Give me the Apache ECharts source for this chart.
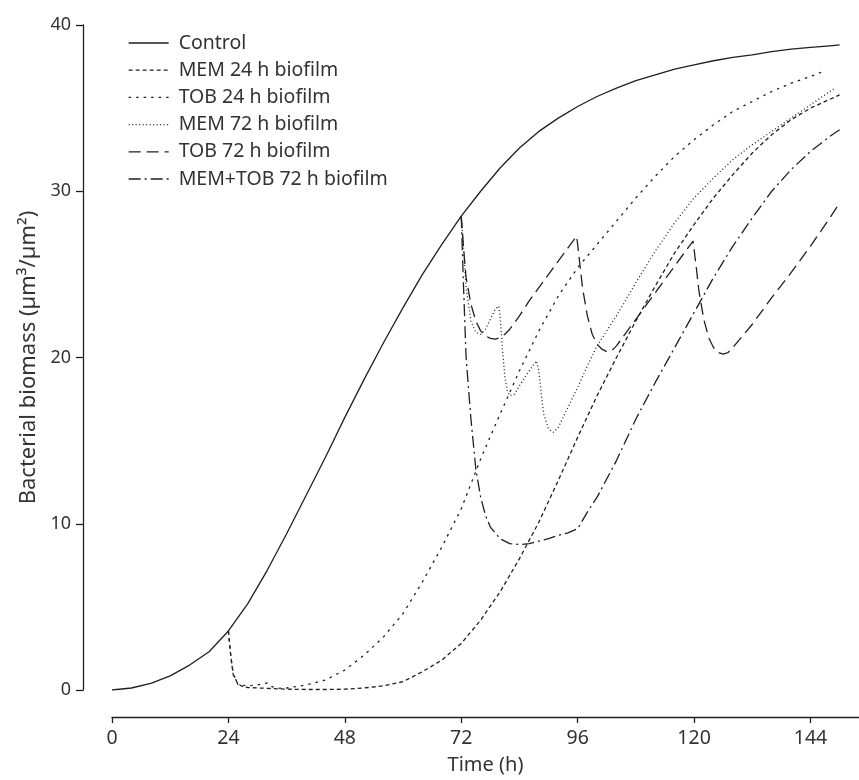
<!DOCTYPE html>
<html>
<head>
<meta charset="utf-8">
<script src="https://cdn.jsdelivr.net/npm/echarts@6/dist/echarts.min.js"></script>
<style>html,body{margin:0;padding:0;background:#fff}#c{width:859px;height:780px}</style>
</head>
<body>
<div id="c"></div>
<script>
var xTicks = [0, 24, 48, 72, 96, 120, 144];
var seriesNames = ['Control', 'MEM 24 h biofilm', 'TOB 24 h biofilm', 'MEM 72 h biofilm', 'TOB 72 h biofilm', 'MEM+TOB 72 h biofilm'];

var controlT = [0,4,8,12,16,20,24,28,32,36,40,44,48,52,56,60,64,68,72,76,80,84,88,92,96,100,104,108,112,116,120,124,128,132,136,140,144,148,150];
var controlY = [0,0.12,0.4,0.85,1.5,2.3,3.55,5.2,7.2,9.4,11.7,14.0,16.4,18.7,20.9,23.0,25.0,26.8,28.5,30.0,31.4,32.6,33.6,34.4,35.1,35.7,36.2,36.65,37.0,37.35,37.6,37.85,38.05,38.2,38.4,38.55,38.65,38.75,38.8];

var mem24T = [24,24.5,25,26,27,28,30,32,36,40,44,48,52,56,60,64,68,72,76,80,84,88,92,96,100,104,108,112,116,120,124,128,132,136,140,144,150];
var mem24Y = [3.55,2.0,0.9,0.35,0.2,0.15,0.12,0.1,0.05,0.03,0.03,0.05,0.12,0.25,0.5,1.1,1.8,2.8,4.2,5.9,7.9,10.1,12.6,15.2,17.7,20.0,22.2,24.3,26.3,28.0,29.6,31.0,32.3,33.4,34.3,35.0,35.8];

var tob24T = [24,24.5,25,26,28,30,31,32,33,34,36,40,44,48,52,56,60,64,68,72,76,80,84,88,92,96,100,104,108,112,116,120,124,128,132,136,140,144,147];
var tob24Y = [3.55,2.0,1.0,0.3,0.25,0.3,0.38,0.42,0.2,0.1,0.12,0.3,0.6,1.2,2.1,3.2,4.6,6.5,8.6,10.9,13.9,16.6,19.2,21.6,23.7,25.4,26.8,28.2,29.6,30.9,32.1,33.1,34.0,34.8,35.4,36.0,36.5,36.9,37.25];

var mem72T = [72,72.5,73,74,75,76,77,78,79,79.7,80,80.5,81,81.5,82,83,84,86,87.5,88,88.5,89,90,91,92,94,96,98,100,104,108,112,116,120,124,128,132,136,140,144,149];
var mem72Y = [28.5,26.5,24.2,22.2,21.5,21.4,21.7,22.3,22.9,23.1,22.5,20.5,18.8,18.0,17.7,17.8,18.3,19.2,19.8,19.2,17.8,16.6,15.7,15.5,15.8,17.0,18.2,19.5,20.7,22.5,24.5,26.4,28.1,29.6,30.8,31.9,32.8,33.6,34.4,35.2,36.2];

var tob72T = [72,72.5,73,74,75,76,77,78,79,80,81,82,84,86,88,90,92,94,95.8,96.5,97,98,99,100,101,102,103,104,106,108,110,112,114,116,118,119.8,120.5,121,122,123,124,125,126,127,128,130,132,136,140,144,148,150];
var tob72Y = [28.5,26.5,24.8,23.2,22.2,21.6,21.3,21.15,21.1,21.2,21.4,21.7,22.5,23.4,24.2,25.0,25.8,26.6,27.3,25.5,24.2,22.5,21.4,20.8,20.5,20.35,20.4,20.7,21.5,22.3,23.1,23.9,24.7,25.5,26.3,27.0,25.3,24.0,22.3,21.2,20.6,20.3,20.2,20.3,20.6,21.3,22.0,23.6,25.1,26.7,28.4,29.3];

var memTobT = [72,72.5,73,74,75,76,77,78,80,82,84,86,88,90,92,94,96,98,100,104,108,112,116,120,124,128,132,136,140,144,148,150];
var memTobY = [28.5,24.0,20.0,16.3,13.3,11.6,10.5,9.8,9.1,8.8,8.75,8.8,8.95,9.1,9.3,9.45,9.7,10.7,11.6,13.8,16.3,18.5,20.6,22.7,24.8,26.7,28.4,30.0,31.3,32.4,33.3,33.7];

function pairs(t, y) { return t.map(function (v, i) { return [v, y[i]]; }); }

var INK = '#231f20';
var FONT = '"Noto Sans", sans-serif';
var dashTypes = ['solid', [4, 3], [2.5, 5], [1, 2.5], [12, 6], [12, 4, 2, 4]];
var dataSets = [
  pairs(controlT, controlY), pairs(mem24T, mem24Y), pairs(tob24T, tob24Y),
  pairs(mem72T, mem72Y), pairs(tob72T, tob72Y), pairs(memTobT, memTobY)
];

var series = seriesNames.map(function (n, i) {
  return {
    name: n, type: 'line', data: dataSets[i], showSymbol: false, symbol: 'none',
    smooth: false, animation: false,
    lineStyle: { color: INK, width: 1.3, type: dashTypes[i] },
    itemStyle: { color: INK }
  };
});

var chart = echarts.init(document.getElementById('c'), null, { renderer: 'canvas' });
chart.setOption({
  backgroundColor: '#fff',
  animation: false,
  grid: { left: 112, right: 0, top: 25, bottom: 85, containLabel: false },
  legend: {
    orient: 'vertical', left: 123, top: 28, itemWidth: 40, itemHeight: 14, itemGap: 7.2,
    textStyle: { fontFamily: FONT, fontSize: 19.5, color: '#333', lineHeight: 19, padding: [0, 0, 0, 5] },
    data: seriesNames,
    itemStyle: { opacity: 0, borderWidth: 0 },
    lineStyle: { width: 1.3 }
  },
  xAxis: {
    type: 'value', min: 0, max: 154, interval: 24, offset: 27,
    name: 'Time (h)', nameLocation: 'middle', nameGap: 38,
    nameTextStyle: { fontFamily: FONT, fontSize: 20, color: '#333' },
    axisLine: { show: true, onZero: false, lineStyle: { color: INK, width: 1.3 } },
    axisTick: { show: true, length: 6, inside: false, lineStyle: { color: INK, width: 1.3 }, customValues: xTicks },
    axisLabel: { fontFamily: FONT, fontSize: 19.5, color: '#333', margin: 11, customValues: xTicks },
    splitLine: { show: false }
  },
  yAxis: {
    type: 'value', min: 0, max: 40, interval: 10, offset: 29,
    name: 'Bacterial biomass (µm³/µm²)', nameLocation: 'middle', nameGap: 42,
    nameTextStyle: { fontFamily: FONT, fontSize: 22, color: '#333' },
    axisLine: { show: true, onZero: false, lineStyle: { color: INK, width: 1.3 } },
    axisTick: { show: true, length: 7, lineStyle: { color: INK, width: 1.3 } },
    axisLabel: { fontFamily: FONT, fontSize: 18, color: '#333', margin: 12 },
    splitLine: { show: false }
  },
  series: series
});
</script>
</body>
</html>
